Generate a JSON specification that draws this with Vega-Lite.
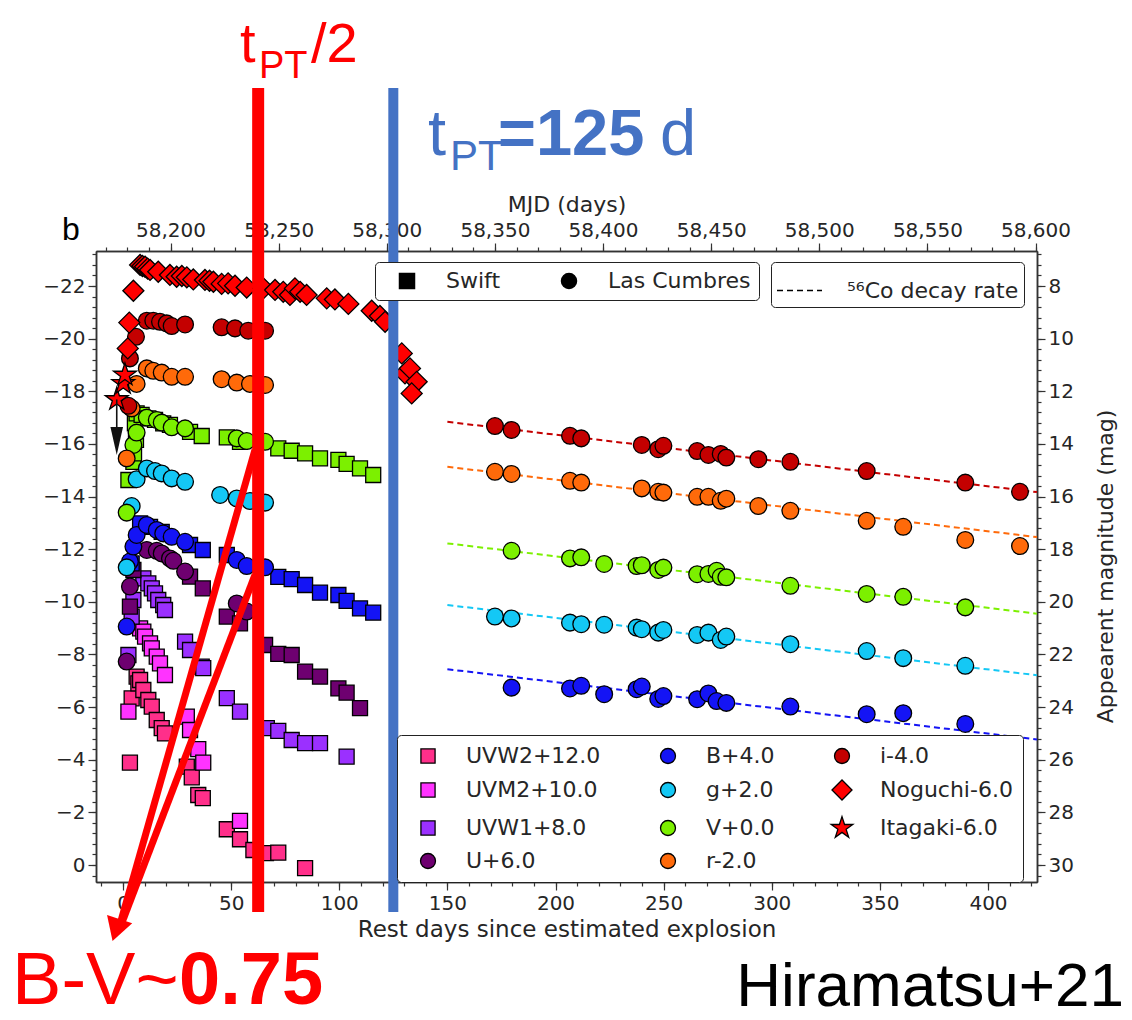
{
  "$schema": "https://vega.github.io/schema/vega-lite/v6.json",
  "width": 941,
  "height": 631,
  "autosize": {"type": "none"},
  "padding": {"left": 96, "top": 251, "right": 95, "bottom": 138},
  "background": "white",
  "config": {
    "view": {"stroke": null},
    "font": "DejaVu Sans",
    "axis": {
      "grid": false,
      "domainColor": "#333333",
      "domainWidth": 1.5,
      "tickColor": "#333333",
      "tickWidth": 1.2,
      "labelColor": "#262626",
      "labelFont": "DejaVu Sans",
      "labelFontSize": 20,
      "titleColor": "#262626",
      "titleFont": "DejaVu Sans",
      "titleFontWeight": "normal",
      "titleFontSize": 22,
      "labelOverlap": false,
      "labelPadding": 3
    }
  },
  "datasets": {
    "photometry": [
      {"band": "UVW2+12.0", "inst": "Swift", "day": 3.2, "mag": -3.89},
      {"band": "UVW2+12.0", "inst": "Swift", "day": 4.0, "mag": -6.33},
      {"band": "UVW2+12.0", "inst": "Swift", "day": 6.3, "mag": -7.16},
      {"band": "UVW2+12.0", "inst": "Swift", "day": 7.1, "mag": -6.90},
      {"band": "UVW2+12.0", "inst": "Swift", "day": 7.9, "mag": -7.03},
      {"band": "UVW2+12.0", "inst": "Swift", "day": 9.4, "mag": -6.65},
      {"band": "UVW2+12.0", "inst": "Swift", "day": 11.7, "mag": -6.27},
      {"band": "UVW2+12.0", "inst": "Swift", "day": 13.3, "mag": -6.02},
      {"band": "UVW2+12.0", "inst": "Swift", "day": 15.6, "mag": -5.51},
      {"band": "UVW2+12.0", "inst": "Swift", "day": 17.9, "mag": -5.20},
      {"band": "UVW2+12.0", "inst": "Swift", "day": 19.4, "mag": -5.00},
      {"band": "UVW2+12.0", "inst": "Swift", "day": 29.5, "mag": -3.74},
      {"band": "UVW2+12.0", "inst": "Swift", "day": 31.8, "mag": -3.33},
      {"band": "UVW2+12.0", "inst": "Swift", "day": 34.8, "mag": -2.66},
      {"band": "UVW2+12.0", "inst": "Swift", "day": 36.9, "mag": -2.54},
      {"band": "UVW2+12.0", "inst": "Swift", "day": 48.0, "mag": -1.36},
      {"band": "UVW2+12.0", "inst": "Swift", "day": 54.1, "mag": -0.98},
      {"band": "UVW2+12.0", "inst": "Swift", "day": 60.3, "mag": -0.57},
      {"band": "UVW2+12.0", "inst": "Swift", "day": 66.1, "mag": -0.45},
      {"band": "UVW2+12.0", "inst": "Swift", "day": 71.8, "mag": -0.47},
      {"band": "UVW2+12.0", "inst": "Swift", "day": 84.2, "mag": 0.12},

      {"band": "UVM2+10.0", "inst": "Swift", "day": 2.5, "mag": -5.83},
      {"band": "UVM2+10.0", "inst": "Swift", "day": 7.9, "mag": -8.99},
      {"band": "UVM2+10.0", "inst": "Swift", "day": 9.4, "mag": -8.87},
      {"band": "UVM2+10.0", "inst": "Swift", "day": 10.2, "mag": -8.68},
      {"band": "UVM2+10.0", "inst": "Swift", "day": 12.5, "mag": -8.42},
      {"band": "UVM2+10.0", "inst": "Swift", "day": 13.3, "mag": -8.23},
      {"band": "UVM2+10.0", "inst": "Swift", "day": 15.6, "mag": -7.92},
      {"band": "UVM2+10.0", "inst": "Swift", "day": 17.1, "mag": -7.66},
      {"band": "UVM2+10.0", "inst": "Swift", "day": 19.4, "mag": -7.22},
      {"band": "UVM2+10.0", "inst": "Swift", "day": 29.5, "mag": -5.64},
      {"band": "UVM2+10.0", "inst": "Swift", "day": 31.0, "mag": -5.13},
      {"band": "UVM2+10.0", "inst": "Swift", "day": 34.8, "mag": -4.40},
      {"band": "UVM2+10.0", "inst": "Swift", "day": 37.1, "mag": -3.89},
      {"band": "UVM2+10.0", "inst": "Swift", "day": 54.1, "mag": -1.68},

      {"band": "UVW1+8.0", "inst": "Swift", "day": 2.5, "mag": -7.98},
      {"band": "UVW1+8.0", "inst": "Swift", "day": 4.0, "mag": -9.44},
      {"band": "UVW1+8.0", "inst": "Swift", "day": 4.8, "mag": -10.07},
      {"band": "UVW1+8.0", "inst": "Swift", "day": 9.4, "mag": -10.89},
      {"band": "UVW1+8.0", "inst": "Swift", "day": 11.7, "mag": -10.70},
      {"band": "UVW1+8.0", "inst": "Swift", "day": 13.3, "mag": -10.51},
      {"band": "UVW1+8.0", "inst": "Swift", "day": 14.8, "mag": -10.32},
      {"band": "UVW1+8.0", "inst": "Swift", "day": 16.3, "mag": -10.07},
      {"band": "UVW1+8.0", "inst": "Swift", "day": 18.6, "mag": -9.88},
      {"band": "UVW1+8.0", "inst": "Swift", "day": 19.4, "mag": -9.69},
      {"band": "UVW1+8.0", "inst": "Swift", "day": 28.7, "mag": -8.49},
      {"band": "UVW1+8.0", "inst": "Swift", "day": 31.0, "mag": -8.17},
      {"band": "UVW1+8.0", "inst": "Swift", "day": 36.4, "mag": -7.54},
      {"band": "UVW1+8.0", "inst": "Swift", "day": 37.1, "mag": -7.48},
      {"band": "UVW1+8.0", "inst": "Swift", "day": 48.0, "mag": -6.34},
      {"band": "UVW1+8.0", "inst": "Swift", "day": 54.1, "mag": -5.83},
      {"band": "UVW1+8.0", "inst": "Swift", "day": 66.5, "mag": -5.20},
      {"band": "UVW1+8.0", "inst": "Swift", "day": 71.8, "mag": -5.10},
      {"band": "UVW1+8.0", "inst": "Swift", "day": 78.0, "mag": -4.75},
      {"band": "UVW1+8.0", "inst": "Swift", "day": 84.2, "mag": -4.63},
      {"band": "UVW1+8.0", "inst": "Swift", "day": 91.1, "mag": -4.63},
      {"band": "UVW1+8.0", "inst": "Swift", "day": 103.4, "mag": -4.12},

      {"band": "U+6.0", "inst": "Swift", "day": 3.2, "mag": -9.82},
      {"band": "U+6.0", "inst": "Swift", "day": 4.8, "mag": -11.21},
      {"band": "U+6.0", "inst": "Swift", "day": 31.0, "mag": -10.96},
      {"band": "U+6.0", "inst": "Swift", "day": 36.9, "mag": -10.51},
      {"band": "U+6.0", "inst": "Swift", "day": 48.0, "mag": -9.44},
      {"band": "U+6.0", "inst": "Swift", "day": 54.1, "mag": -9.18},
      {"band": "U+6.0", "inst": "Swift", "day": 65.7, "mag": -8.36},
      {"band": "U+6.0", "inst": "Swift", "day": 71.8, "mag": -8.02},
      {"band": "U+6.0", "inst": "Swift", "day": 78.0, "mag": -7.98},
      {"band": "U+6.0", "inst": "Swift", "day": 84.2, "mag": -7.35},
      {"band": "U+6.0", "inst": "Swift", "day": 91.1, "mag": -7.16},
      {"band": "U+6.0", "inst": "Swift", "day": 99.6, "mag": -6.71},
      {"band": "U+6.0", "inst": "Swift", "day": 103.4, "mag": -6.55},
      {"band": "U+6.0", "inst": "Swift", "day": 109.6, "mag": -5.96},
      {"band": "U+6.0", "inst": "Las Cumbres", "day": 1.7, "mag": -7.73},
      {"band": "U+6.0", "inst": "Las Cumbres", "day": 3.2, "mag": -10.58},
      {"band": "U+6.0", "inst": "Las Cumbres", "day": 11.0, "mag": -11.97},
      {"band": "U+6.0", "inst": "Las Cumbres", "day": 15.6, "mag": -11.94},
      {"band": "U+6.0", "inst": "Las Cumbres", "day": 17.9, "mag": -11.84},
      {"band": "U+6.0", "inst": "Las Cumbres", "day": 21.7, "mag": -11.65},
      {"band": "U+6.0", "inst": "Las Cumbres", "day": 23.3, "mag": -11.56},
      {"band": "U+6.0", "inst": "Las Cumbres", "day": 28.7, "mag": -11.15},
      {"band": "U+6.0", "inst": "Las Cumbres", "day": 52.6, "mag": -9.94},
      {"band": "U+6.0", "inst": "Las Cumbres", "day": 57.2, "mag": -9.63},

      {"band": "B+4.0", "inst": "Swift", "day": 4.0, "mag": -11.46},
      {"band": "B+4.0", "inst": "Swift", "day": 7.9, "mag": -12.98},
      {"band": "B+4.0", "inst": "Swift", "day": 12.5, "mag": -12.85},
      {"band": "B+4.0", "inst": "Swift", "day": 17.9, "mag": -12.66},
      {"band": "B+4.0", "inst": "Swift", "day": 31.0, "mag": -12.16},
      {"band": "B+4.0", "inst": "Swift", "day": 36.9, "mag": -11.97},
      {"band": "B+4.0", "inst": "Swift", "day": 48.0, "mag": -11.78},
      {"band": "B+4.0", "inst": "Swift", "day": 71.8, "mag": -10.95},
      {"band": "B+4.0", "inst": "Swift", "day": 78.0, "mag": -10.86},
      {"band": "B+4.0", "inst": "Swift", "day": 84.2, "mag": -10.64},
      {"band": "B+4.0", "inst": "Swift", "day": 91.1, "mag": -10.35},
      {"band": "B+4.0", "inst": "Swift", "day": 99.6, "mag": -10.26},
      {"band": "B+4.0", "inst": "Swift", "day": 103.4, "mag": -10.04},
      {"band": "B+4.0", "inst": "Swift", "day": 109.6, "mag": -9.75},
      {"band": "B+4.0", "inst": "Swift", "day": 115.7, "mag": -9.59},
      {"band": "B+4.0", "inst": "Las Cumbres", "day": 1.7, "mag": -9.06},
      {"band": "B+4.0", "inst": "Las Cumbres", "day": 3.2, "mag": -11.53},
      {"band": "B+4.0", "inst": "Las Cumbres", "day": 4.8, "mag": -12.10},
      {"band": "B+4.0", "inst": "Las Cumbres", "day": 6.3, "mag": -12.54},
      {"band": "B+4.0", "inst": "Las Cumbres", "day": 11.0, "mag": -12.92},
      {"band": "B+4.0", "inst": "Las Cumbres", "day": 15.6, "mag": -12.73},
      {"band": "B+4.0", "inst": "Las Cumbres", "day": 18.6, "mag": -12.60},
      {"band": "B+4.0", "inst": "Las Cumbres", "day": 22.5, "mag": -12.47},
      {"band": "B+4.0", "inst": "Las Cumbres", "day": 28.7, "mag": -12.28},
      {"band": "B+4.0", "inst": "Las Cumbres", "day": 52.6, "mag": -11.59},
      {"band": "B+4.0", "inst": "Las Cumbres", "day": 57.2, "mag": -11.36},
      {"band": "B+4.0", "inst": "Las Cumbres", "day": 65.7, "mag": -11.31},
      {"band": "B+4.0", "inst": "Las Cumbres", "day": 179.7, "mag": -6.74},
      {"band": "B+4.0", "inst": "Las Cumbres", "day": 206.7, "mag": -6.71},
      {"band": "B+4.0", "inst": "Las Cumbres", "day": 211.9, "mag": -6.81},
      {"band": "B+4.0", "inst": "Las Cumbres", "day": 222.5, "mag": -6.49},
      {"band": "B+4.0", "inst": "Las Cumbres", "day": 237.5, "mag": -6.68},
      {"band": "B+4.0", "inst": "Las Cumbres", "day": 239.9, "mag": -6.78},
      {"band": "B+4.0", "inst": "Las Cumbres", "day": 247.5, "mag": -6.31},
      {"band": "B+4.0", "inst": "Las Cumbres", "day": 249.9, "mag": -6.42},
      {"band": "B+4.0", "inst": "Las Cumbres", "day": 265.5, "mag": -6.30},
      {"band": "B+4.0", "inst": "Las Cumbres", "day": 270.7, "mag": -6.52},
      {"band": "B+4.0", "inst": "Las Cumbres", "day": 274.5, "mag": -6.23},
      {"band": "B+4.0", "inst": "Las Cumbres", "day": 279.0, "mag": -6.16},
      {"band": "B+4.0", "inst": "Las Cumbres", "day": 308.6, "mag": -6.02},
      {"band": "B+4.0", "inst": "Las Cumbres", "day": 343.9, "mag": -5.73},
      {"band": "B+4.0", "inst": "Las Cumbres", "day": 360.8, "mag": -5.77},
      {"band": "B+4.0", "inst": "Las Cumbres", "day": 389.5, "mag": -5.36},

      {"band": "g+2.0", "inst": "Las Cumbres", "day": 1.7, "mag": -11.31},
      {"band": "g+2.0", "inst": "Las Cumbres", "day": 4.0, "mag": -13.64},
      {"band": "g+2.0", "inst": "Las Cumbres", "day": 6.3, "mag": -14.66},
      {"band": "g+2.0", "inst": "Las Cumbres", "day": 11.0, "mag": -15.07},
      {"band": "g+2.0", "inst": "Las Cumbres", "day": 14.8, "mag": -14.97},
      {"band": "g+2.0", "inst": "Las Cumbres", "day": 17.9, "mag": -14.88},
      {"band": "g+2.0", "inst": "Las Cumbres", "day": 22.5, "mag": -14.69},
      {"band": "g+2.0", "inst": "Las Cumbres", "day": 28.7, "mag": -14.56},
      {"band": "g+2.0", "inst": "Las Cumbres", "day": 44.9, "mag": -14.06},
      {"band": "g+2.0", "inst": "Las Cumbres", "day": 52.6, "mag": -13.93},
      {"band": "g+2.0", "inst": "Las Cumbres", "day": 58.7, "mag": -13.83},
      {"band": "g+2.0", "inst": "Las Cumbres", "day": 65.7, "mag": -13.77},
      {"band": "g+2.0", "inst": "Las Cumbres", "day": 172.0, "mag": -9.44},
      {"band": "g+2.0", "inst": "Las Cumbres", "day": 179.7, "mag": -9.37},
      {"band": "g+2.0", "inst": "Las Cumbres", "day": 206.7, "mag": -9.21},
      {"band": "g+2.0", "inst": "Las Cumbres", "day": 211.9, "mag": -9.15},
      {"band": "g+2.0", "inst": "Las Cumbres", "day": 222.5, "mag": -9.13},
      {"band": "g+2.0", "inst": "Las Cumbres", "day": 237.5, "mag": -9.02},
      {"band": "g+2.0", "inst": "Las Cumbres", "day": 239.9, "mag": -8.96},
      {"band": "g+2.0", "inst": "Las Cumbres", "day": 247.5, "mag": -8.83},
      {"band": "g+2.0", "inst": "Las Cumbres", "day": 249.9, "mag": -8.93},
      {"band": "g+2.0", "inst": "Las Cumbres", "day": 265.5, "mag": -8.74},
      {"band": "g+2.0", "inst": "Las Cumbres", "day": 270.7, "mag": -8.83},
      {"band": "g+2.0", "inst": "Las Cumbres", "day": 276.4, "mag": -8.55},
      {"band": "g+2.0", "inst": "Las Cumbres", "day": 279.0, "mag": -8.68},
      {"band": "g+2.0", "inst": "Las Cumbres", "day": 308.6, "mag": -8.39},
      {"band": "g+2.0", "inst": "Las Cumbres", "day": 343.9, "mag": -8.13},
      {"band": "g+2.0", "inst": "Las Cumbres", "day": 360.8, "mag": -7.86},
      {"band": "g+2.0", "inst": "Las Cumbres", "day": 389.5, "mag": -7.57},

      {"band": "V+0.0", "inst": "Swift", "day": 2.5, "mag": -14.63},
      {"band": "V+0.0", "inst": "Swift", "day": 4.8, "mag": -15.32},
      {"band": "V+0.0", "inst": "Swift", "day": 5.1, "mag": -15.64},
      {"band": "V+0.0", "inst": "Swift", "day": 6.0, "mag": -16.15},
      {"band": "V+0.0", "inst": "Swift", "day": 5.5, "mag": -16.78},
      {"band": "V+0.0", "inst": "Swift", "day": 6.3, "mag": -17.16},
      {"band": "V+0.0", "inst": "Swift", "day": 8.6, "mag": -17.10},
      {"band": "V+0.0", "inst": "Swift", "day": 11.7, "mag": -16.97},
      {"band": "V+0.0", "inst": "Swift", "day": 14.8, "mag": -16.91},
      {"band": "V+0.0", "inst": "Swift", "day": 18.6, "mag": -16.78},
      {"band": "V+0.0", "inst": "Swift", "day": 21.7, "mag": -16.72},
      {"band": "V+0.0", "inst": "Swift", "day": 31.0, "mag": -16.46},
      {"band": "V+0.0", "inst": "Swift", "day": 36.4, "mag": -16.30},
      {"band": "V+0.0", "inst": "Swift", "day": 48.0, "mag": -16.25},
      {"band": "V+0.0", "inst": "Swift", "day": 54.1, "mag": -16.08},
      {"band": "V+0.0", "inst": "Swift", "day": 71.8, "mag": -15.83},
      {"band": "V+0.0", "inst": "Swift", "day": 78.0, "mag": -15.74},
      {"band": "V+0.0", "inst": "Swift", "day": 84.2, "mag": -15.64},
      {"band": "V+0.0", "inst": "Swift", "day": 91.1, "mag": -15.45},
      {"band": "V+0.0", "inst": "Swift", "day": 99.6, "mag": -15.39},
      {"band": "V+0.0", "inst": "Swift", "day": 103.4, "mag": -15.24},
      {"band": "V+0.0", "inst": "Swift", "day": 109.6, "mag": -15.07},
      {"band": "V+0.0", "inst": "Swift", "day": 115.7, "mag": -14.82},
      {"band": "V+0.0", "inst": "Las Cumbres", "day": 1.7, "mag": -13.39},
      {"band": "V+0.0", "inst": "Las Cumbres", "day": 4.8, "mag": -15.96},
      {"band": "V+0.0", "inst": "Las Cumbres", "day": 6.3, "mag": -16.43},
      {"band": "V+0.0", "inst": "Las Cumbres", "day": 11.0, "mag": -17.0},
      {"band": "V+0.0", "inst": "Las Cumbres", "day": 15.6, "mag": -16.91},
      {"band": "V+0.0", "inst": "Las Cumbres", "day": 17.9, "mag": -16.81},
      {"band": "V+0.0", "inst": "Las Cumbres", "day": 22.5, "mag": -16.63},
      {"band": "V+0.0", "inst": "Las Cumbres", "day": 28.7, "mag": -16.59},
      {"band": "V+0.0", "inst": "Las Cumbres", "day": 52.6, "mag": -16.21},
      {"band": "V+0.0", "inst": "Las Cumbres", "day": 57.2, "mag": -16.11},
      {"band": "V+0.0", "inst": "Las Cumbres", "day": 65.7, "mag": -16.08},
      {"band": "V+0.0", "inst": "Las Cumbres", "day": 179.7, "mag": -11.94},
      {"band": "V+0.0", "inst": "Las Cumbres", "day": 206.7, "mag": -11.65},
      {"band": "V+0.0", "inst": "Las Cumbres", "day": 211.9, "mag": -11.69},
      {"band": "V+0.0", "inst": "Las Cumbres", "day": 222.5, "mag": -11.44},
      {"band": "V+0.0", "inst": "Las Cumbres", "day": 237.5, "mag": -11.36},
      {"band": "V+0.0", "inst": "Las Cumbres", "day": 239.9, "mag": -11.39},
      {"band": "V+0.0", "inst": "Las Cumbres", "day": 247.5, "mag": -11.21},
      {"band": "V+0.0", "inst": "Las Cumbres", "day": 249.9, "mag": -11.30},
      {"band": "V+0.0", "inst": "Las Cumbres", "day": 265.5, "mag": -11.05},
      {"band": "V+0.0", "inst": "Las Cumbres", "day": 270.7, "mag": -11.06},
      {"band": "V+0.0", "inst": "Las Cumbres", "day": 274.5, "mag": -11.18},
      {"band": "V+0.0", "inst": "Las Cumbres", "day": 276.4, "mag": -10.95},
      {"band": "V+0.0", "inst": "Las Cumbres", "day": 279.0, "mag": -10.93},
      {"band": "V+0.0", "inst": "Las Cumbres", "day": 308.6, "mag": -10.61},
      {"band": "V+0.0", "inst": "Las Cumbres", "day": 343.9, "mag": -10.30},
      {"band": "V+0.0", "inst": "Las Cumbres", "day": 360.8, "mag": -10.19},
      {"band": "V+0.0", "inst": "Las Cumbres", "day": 389.5, "mag": -9.79},

      {"band": "r-2.0", "inst": "Las Cumbres", "day": 1.7, "mag": -15.45},
      {"band": "r-2.0", "inst": "Las Cumbres", "day": 4.0, "mag": -17.35},
      {"band": "r-2.0", "inst": "Las Cumbres", "day": 6.3, "mag": -18.28},
      {"band": "r-2.0", "inst": "Las Cumbres", "day": 11.0, "mag": -18.87},
      {"band": "r-2.0", "inst": "Las Cumbres", "day": 14.0, "mag": -18.78},
      {"band": "r-2.0", "inst": "Las Cumbres", "day": 17.9, "mag": -18.71},
      {"band": "r-2.0", "inst": "Las Cumbres", "day": 22.5, "mag": -18.55},
      {"band": "r-2.0", "inst": "Las Cumbres", "day": 28.7, "mag": -18.55},
      {"band": "r-2.0", "inst": "Las Cumbres", "day": 45.6, "mag": -18.46},
      {"band": "r-2.0", "inst": "Las Cumbres", "day": 52.6, "mag": -18.33},
      {"band": "r-2.0", "inst": "Las Cumbres", "day": 58.7, "mag": -18.28},
      {"band": "r-2.0", "inst": "Las Cumbres", "day": 65.7, "mag": -18.24},
      {"band": "r-2.0", "inst": "Las Cumbres", "day": 172.0, "mag": -14.94},
      {"band": "r-2.0", "inst": "Las Cumbres", "day": 179.7, "mag": -14.86},
      {"band": "r-2.0", "inst": "Las Cumbres", "day": 206.7, "mag": -14.60},
      {"band": "r-2.0", "inst": "Las Cumbres", "day": 211.9, "mag": -14.53},
      {"band": "r-2.0", "inst": "Las Cumbres", "day": 239.9, "mag": -14.31},
      {"band": "r-2.0", "inst": "Las Cumbres", "day": 247.5, "mag": -14.18},
      {"band": "r-2.0", "inst": "Las Cumbres", "day": 249.9, "mag": -14.15},
      {"band": "r-2.0", "inst": "Las Cumbres", "day": 265.5, "mag": -13.99},
      {"band": "r-2.0", "inst": "Las Cumbres", "day": 270.7, "mag": -13.99},
      {"band": "r-2.0", "inst": "Las Cumbres", "day": 276.4, "mag": -13.84},
      {"band": "r-2.0", "inst": "Las Cumbres", "day": 279.0, "mag": -13.92},
      {"band": "r-2.0", "inst": "Las Cumbres", "day": 293.8, "mag": -13.64},
      {"band": "r-2.0", "inst": "Las Cumbres", "day": 308.6, "mag": -13.46},
      {"band": "r-2.0", "inst": "Las Cumbres", "day": 343.9, "mag": -13.08},
      {"band": "r-2.0", "inst": "Las Cumbres", "day": 360.8, "mag": -12.85},
      {"band": "r-2.0", "inst": "Las Cumbres", "day": 389.5, "mag": -12.35},
      {"band": "r-2.0", "inst": "Las Cumbres", "day": 414.8, "mag": -12.12},

      {"band": "i-4.0", "inst": "Las Cumbres", "day": 2.5, "mag": -17.45},
      {"band": "i-4.0", "inst": "Las Cumbres", "day": 3.2, "mag": -19.25},
      {"band": "i-4.0", "inst": "Las Cumbres", "day": 6.0, "mag": -20.07},
      {"band": "i-4.0", "inst": "Las Cumbres", "day": 11.0, "mag": -20.68},
      {"band": "i-4.0", "inst": "Las Cumbres", "day": 14.0, "mag": -20.68},
      {"band": "i-4.0", "inst": "Las Cumbres", "day": 17.1, "mag": -20.64},
      {"band": "i-4.0", "inst": "Las Cumbres", "day": 20.2, "mag": -20.58},
      {"band": "i-4.0", "inst": "Las Cumbres", "day": 22.5, "mag": -20.48},
      {"band": "i-4.0", "inst": "Las Cumbres", "day": 28.7, "mag": -20.54},
      {"band": "i-4.0", "inst": "Las Cumbres", "day": 45.6, "mag": -20.43},
      {"band": "i-4.0", "inst": "Las Cumbres", "day": 51.8, "mag": -20.39},
      {"band": "i-4.0", "inst": "Las Cumbres", "day": 57.9, "mag": -20.30},
      {"band": "i-4.0", "inst": "Las Cumbres", "day": 65.7, "mag": -20.30},
      {"band": "i-4.0", "inst": "Las Cumbres", "day": 172.0, "mag": -16.68},
      {"band": "i-4.0", "inst": "Las Cumbres", "day": 179.7, "mag": -16.53},
      {"band": "i-4.0", "inst": "Las Cumbres", "day": 206.7, "mag": -16.31},
      {"band": "i-4.0", "inst": "Las Cumbres", "day": 211.9, "mag": -16.21},
      {"band": "i-4.0", "inst": "Las Cumbres", "day": 239.9, "mag": -15.96},
      {"band": "i-4.0", "inst": "Las Cumbres", "day": 247.5, "mag": -15.80},
      {"band": "i-4.0", "inst": "Las Cumbres", "day": 249.9, "mag": -15.93},
      {"band": "i-4.0", "inst": "Las Cumbres", "day": 265.5, "mag": -15.73},
      {"band": "i-4.0", "inst": "Las Cumbres", "day": 270.7, "mag": -15.58},
      {"band": "i-4.0", "inst": "Las Cumbres", "day": 276.4, "mag": -15.62},
      {"band": "i-4.0", "inst": "Las Cumbres", "day": 279.0, "mag": -15.48},
      {"band": "i-4.0", "inst": "Las Cumbres", "day": 293.8, "mag": -15.42},
      {"band": "i-4.0", "inst": "Las Cumbres", "day": 308.6, "mag": -15.32},
      {"band": "i-4.0", "inst": "Las Cumbres", "day": 343.9, "mag": -14.97},
      {"band": "i-4.0", "inst": "Las Cumbres", "day": 389.5, "mag": -14.53},
      {"band": "i-4.0", "inst": "Las Cumbres", "day": 414.8, "mag": -14.18},

      {"band": "Noguchi-6.0", "inst": "Noguchi", "day": 2.2, "mag": -19.63},
      {"band": "Noguchi-6.0", "inst": "Noguchi", "day": 2.9, "mag": -20.61},
      {"band": "Noguchi-6.0", "inst": "Noguchi", "day": 4.8, "mag": -21.82},
      {"band": "Noguchi-6.0", "inst": "Noguchi", "day": 7.9, "mag": -22.80},
      {"band": "Noguchi-6.0", "inst": "Noguchi", "day": 9.0, "mag": -22.76},
      {"band": "Noguchi-6.0", "inst": "Noguchi", "day": 10.2, "mag": -22.73},
      {"band": "Noguchi-6.0", "inst": "Noguchi", "day": 11.4, "mag": -22.66},
      {"band": "Noguchi-6.0", "inst": "Noguchi", "day": 12.5, "mag": -22.61},
      {"band": "Noguchi-6.0", "inst": "Noguchi", "day": 16.3, "mag": -22.54},
      {"band": "Noguchi-6.0", "inst": "Noguchi", "day": 21.7, "mag": -22.42},
      {"band": "Noguchi-6.0", "inst": "Noguchi", "day": 24.8, "mag": -22.35},
      {"band": "Noguchi-6.0", "inst": "Noguchi", "day": 27.2, "mag": -22.38},
      {"band": "Noguchi-6.0", "inst": "Noguchi", "day": 29.5, "mag": -22.33},
      {"band": "Noguchi-6.0", "inst": "Noguchi", "day": 32.5, "mag": -22.25},
      {"band": "Noguchi-6.0", "inst": "Noguchi", "day": 37.9, "mag": -22.23},
      {"band": "Noguchi-6.0", "inst": "Noguchi", "day": 40.0, "mag": -22.20},
      {"band": "Noguchi-6.0", "inst": "Noguchi", "day": 41.8, "mag": -22.16},
      {"band": "Noguchi-6.0", "inst": "Noguchi", "day": 45.6, "mag": -22.08},
      {"band": "Noguchi-6.0", "inst": "Noguchi", "day": 48.6, "mag": -22.10},
      {"band": "Noguchi-6.0", "inst": "Noguchi", "day": 51.8, "mag": -22.01},
      {"band": "Noguchi-6.0", "inst": "Noguchi", "day": 57.2, "mag": -21.94},
      {"band": "Noguchi-6.0", "inst": "Noguchi", "day": 64.9, "mag": -21.91},
      {"band": "Noguchi-6.0", "inst": "Noguchi", "day": 70.3, "mag": -21.85},
      {"band": "Noguchi-6.0", "inst": "Noguchi", "day": 74.1, "mag": -21.78},
      {"band": "Noguchi-6.0", "inst": "Noguchi", "day": 77.2, "mag": -21.66},
      {"band": "Noguchi-6.0", "inst": "Noguchi", "day": 79.5, "mag": -21.91},
      {"band": "Noguchi-6.0", "inst": "Noguchi", "day": 81.9, "mag": -21.78},
      {"band": "Noguchi-6.0", "inst": "Noguchi", "day": 84.9, "mag": -21.66},
      {"band": "Noguchi-6.0", "inst": "Noguchi", "day": 94.2, "mag": -21.53},
      {"band": "Noguchi-6.0", "inst": "Noguchi", "day": 98.0, "mag": -21.49},
      {"band": "Noguchi-6.0", "inst": "Noguchi", "day": 104.2, "mag": -21.32},
      {"band": "Noguchi-6.0", "inst": "Noguchi", "day": 115.0, "mag": -21.06},
      {"band": "Noguchi-6.0", "inst": "Noguchi", "day": 118.8, "mag": -20.86},
      {"band": "Noguchi-6.0", "inst": "Noguchi", "day": 121.2, "mag": -20.64},
      {"band": "Noguchi-6.0", "inst": "Noguchi", "day": 128.9, "mag": -19.44},
      {"band": "Noguchi-6.0", "inst": "Noguchi", "day": 130.4, "mag": -18.68},
      {"band": "Noguchi-6.0", "inst": "Noguchi", "day": 132.7, "mag": -18.87},
      {"band": "Noguchi-6.0", "inst": "Noguchi", "day": 135.8, "mag": -18.36},
      {"band": "Noguchi-6.0", "inst": "Noguchi", "day": 133.5, "mag": -17.92},

      {"band": "Itagaki-6.0", "inst": "Itagaki", "day": -2.9, "mag": -17.69},
      {"band": "Itagaki-6.0", "inst": "Itagaki", "day": 0.1, "mag": -18.30},
      {"band": "Itagaki-6.0", "inst": "Itagaki", "day": 0.9, "mag": -18.62}
    ],
    "decay": [
      {"band": "i-4.0", "model": "⁵⁶Co decay rate", "day": 150, "mag": -16.84},
      {"band": "i-4.0", "model": "⁵⁶Co decay rate", "day": 422.66, "mag": -14.17},
      {"band": "r-2.0", "model": "⁵⁶Co decay rate", "day": 150, "mag": -15.13},
      {"band": "r-2.0", "model": "⁵⁶Co decay rate", "day": 422.66, "mag": -12.46},
      {"band": "V+0.0", "model": "⁵⁶Co decay rate", "day": 150, "mag": -12.22},
      {"band": "V+0.0", "model": "⁵⁶Co decay rate", "day": 422.66, "mag": -9.55},
      {"band": "g+2.0", "model": "⁵⁶Co decay rate", "day": 150, "mag": -9.88},
      {"band": "g+2.0", "model": "⁵⁶Co decay rate", "day": 422.66, "mag": -7.21},
      {"band": "B+4.0", "model": "⁵⁶Co decay rate", "day": 150, "mag": -7.44},
      {"band": "B+4.0", "model": "⁵⁶Co decay rate", "day": 422.66, "mag": -4.77}
    ],
    "upper_limit": [
      {"day": -2.9, "mag": -17.69, "mag2": -16.6, "tip": -16.11}
    ],
    "epochs": [
      {"epoch": "t_PT/2", "day": 62.5, "mag": -29.52, "mag2": 1.785},
      {"epoch": "t_PT", "day": 125, "mag": -29.52, "mag2": 1.785}
    ],
    "pointers": [
      {"day": 61.0, "mag": -15.77, "day2": -1.85, "mag2": 2.39},
      {"day": 61.0, "mag": -11.02, "day2": -0.9, "mag2": 2.28}
    ],
    "pointer_tip": [
      {"day": -3.2, "mag": 2.47}
    ]
  },
  "layer": [
    {
      "encoding": {
        "x": {
          "field": "day",
          "type": "quantitative",
          "scale": {"domain": [-12.49, 422.66], "nice": false, "zero": false},
          "axis": {
            "orient": "bottom",
            "title": "Rest days since estimated explosion",
            "titleFontSize": 23,
            "titlePadding": 5,
            "format": "d",
            "values": [0, 50, 100, 150, 200, 250, 300, 350, 400],
            "tickSize": 8
          }
        },
        "y": {
          "field": "mag",
          "type": "quantitative",
          "scale": {"domain": [-23.33, 0.645], "reverse": true, "nice": false, "zero": false},
          "axis": {
            "orient": "left",
            "title": null,
            "format": "d",
            "values": [-22, -20, -18, -16, -14, -12, -10, -8, -6, -4, -2, 0],
            "tickSize": 8
          }
        }
      },
      "layer": [
        {
          "data": {"name": "decay"},
          "mark": {"type": "line", "strokeWidth": 2},
          "encoding": {
            "detail": {"field": "band"},
            "color": {
              "field": "band",
              "type": "nominal",
              "scale": {
                "domain": ["i-4.0", "r-2.0", "V+0.0", "g+2.0", "B+4.0"],
                "range": ["#c40000", "#ff6a0a", "#7cf000", "#14c8f5", "#1414f5"]
              },
              "legend": null
            },
            "strokeDash": {
              "field": "model",
              "type": "nominal",
              "scale": {"domain": ["⁵⁶Co decay rate"], "range": [[6, 4]]},
              "legend": {
                "orient": "none",
                "legendX": 675,
                "legendY": 11,
                "title": null,
                "symbolType": "stroke",
                "symbolSize": 2025,
                "symbolStrokeColor": "black",
                "symbolStrokeWidth": 1.5,
                "labelFont": "DejaVu Sans",
                "labelFontSize": 22,
                "labelColor": "#262626",
                "labelOffset": 24,
                "labelLimit": 400,
                "padding": 5,
                "fillColor": "white",
                "strokeColor": "#222222",
                "cornerRadius": 4
              }
            }
          }
        },
        {
          "data": {"name": "photometry"},
          "encoding": {
            "color": {
              "field": "band",
              "type": "nominal",
              "scale": {
                "domain": ["UVW2+12.0", "UVM2+10.0", "UVW1+8.0", "U+6.0", "B+4.0", "g+2.0", "V+0.0", "r-2.0", "i-4.0", "Noguchi-6.0", "Itagaki-6.0"],
                "range": ["#ff2f8a", "#ff33ff", "#9b30ff", "#6e0070", "#1414f5", "#14c8f5", "#7cf000", "#ff6a0a", "#c40000", "#ff0000", "#ff0000"]
              },
              "legend": {
                "orient": "none",
                "legendX": 301,
                "legendY": 484,
                "columns": 3,
                "title": null,
                "labelFont": "DejaVu Sans",
                "labelFontSize": 22,
                "labelColor": "#262626",
                "labelLimit": 300,
                "symbolSize": 225,
                "symbolOffset": 10,
                "labelOffset": 27,
                "columnPadding": 46,
                "rowPadding": 10,
                "padding": 10,
                "symbolStrokeColor": "black",
                "symbolStrokeWidth": 1.3,
                "symbolOpacity": 1,
                "fillColor": "white",
                "strokeColor": "#222222",
                "cornerRadius": 4,
                "encode": {
                  "symbols": {
                    "update": {
                      "shape": {"signal": "datum.value === 'Noguchi-6.0' ? 'diamond' : datum.value === 'Itagaki-6.0' ? 'M0,-1L0.2245,-0.309L0.951,-0.309L0.3633,0.118L0.5878,0.809L0,0.382L-0.5878,0.809L-0.3633,0.118L-0.951,-0.309L-0.2245,-0.309Z' : indexof(['UVW2+12.0', 'UVM2+10.0', 'UVW1+8.0'], datum.value) >= 0 ? 'square' : 'circle'"},
                      "size": {"signal": "datum.value === 'Noguchi-6.0' ? 400 : datum.value === 'Itagaki-6.0' ? 520 : indexof(['UVW2+12.0', 'UVM2+10.0', 'UVW1+8.0'], datum.value) >= 0 ? 200 : 225"},
                      "stroke": {"value": "black"},
                      "strokeWidth": {"value": 1.3},
                      "opacity": {"value": 1}
                    }
                  }
                }
              }
            },
            "shape": {
              "field": "inst",
              "type": "nominal",
              "scale": {
                "domain": ["Swift", "Las Cumbres", "Noguchi", "Itagaki"],
                "range": ["square", "circle", "diamond", "M0,-1L0.2245,-0.309L0.951,-0.309L0.3633,0.118L0.5878,0.809L0,0.382L-0.5878,0.809L-0.3633,0.118L-0.951,-0.309L-0.2245,-0.309Z"]
              },
              "legend": {
                "orient": "none",
                "legendX": 279,
                "legendY": 11,
                "direction": "horizontal",
                "values": ["Swift", "Las Cumbres"],
                "title": null,
                "zindex": 0,
                "labelFont": "DejaVu Sans",
                "labelFontSize": 22,
                "labelColor": "#262626",
                "labelLimit": 300,
                "symbolSize": 225,
                "symbolOffset": 13,
                "labelOffset": 28,
                "columnPadding": 44,
                "padding": 8,
                "symbolFillColor": "black",
                "symbolStrokeColor": "black",
                "symbolOpacity": 1,
                "fillColor": "white",
                "strokeColor": "#222222",
                "cornerRadius": 4,
                "encode": {
                  "symbols": {
                    "update": {
                      "fill": {"value": "black"},
                      "stroke": {"value": "black"},
                      "opacity": {"value": 1}
                    }
                  }
                }
              }
            }
          },
          "layer": [
            {
              "transform": [{"filter": "datum.inst === 'Swift'"}],
              "mark": {"type": "point", "filled": true, "opacity": 1, "stroke": "black", "strokeWidth": 1.3, "size": 225}
            },
            {
              "transform": [{"filter": "datum.inst === 'Las Cumbres'"}],
              "mark": {"type": "point", "filled": true, "opacity": 1, "stroke": "black", "strokeWidth": 1.3, "size": 280}
            },
            {
              "transform": [{"filter": "datum.inst === 'Noguchi'"}],
              "mark": {"type": "point", "filled": true, "opacity": 1, "stroke": "black", "strokeWidth": 1.3, "size": 441}
            },
            {
              "transform": [{"filter": "datum.inst === 'Itagaki'"}],
              "mark": {"type": "point", "filled": true, "opacity": 1, "stroke": "black", "strokeWidth": 1.3, "size": 576}
            }
          ]
        },
        {
          "data": {"name": "upper_limit"},
          "mark": {"type": "rule", "color": "#111111", "strokeWidth": 1.6},
          "encoding": {"y2": {"field": "mag2"}}
        },
        {
          "data": {"name": "upper_limit"},
          "mark": {"type": "point", "filled": true, "color": "#111111", "opacity": 1, "size": 784, "shape": "M-0.45,-1L0.45,-1L0,1Z"},
          "encoding": {"y": {"field": "tip", "type": "quantitative"}}
        },
        {
          "data": {"name": "epochs"},
          "transform": [{"filter": "datum.epoch === 't_PT/2'"}],
          "mark": {"type": "rule", "color": "#ff0000", "strokeWidth": 12, "clip": false},
          "encoding": {"y2": {"field": "mag2"}}
        },
        {
          "data": {"name": "epochs"},
          "transform": [{"filter": "datum.epoch === 't_PT'"}],
          "mark": {"type": "rule", "color": "#4472c4", "strokeWidth": 10, "clip": false},
          "encoding": {"y2": {"field": "mag2"}}
        },
        {
          "data": {"name": "pointers"},
          "mark": {"type": "rule", "color": "#ff0000", "strokeWidth": 7, "clip": false},
          "encoding": {"x2": {"field": "day2"}, "y2": {"field": "mag2"}}
        },
        {
          "data": {"name": "pointer_tip"},
          "mark": {"type": "point", "shape": "triangle-down", "angle": 18, "filled": true, "color": "#ff0000", "opacity": 1, "size": 700, "clip": false}
        },
        {
          "data": {"values": [{"text": "t", "day": 54.1, "mag": -30.51}, {"text": "/2", "day": 86.9, "mag": -30.51}]},
          "mark": {"type": "text", "font": "Liberation Sans", "fontSize": 56, "color": "#ff0000", "align": "left", "baseline": "alphabetic", "clip": false},
          "encoding": {"text": {"field": "text"}}
        },
        {
          "data": {"values": [{"text": "PT", "day": 62.9, "mag": -29.90}]},
          "mark": {"type": "text", "font": "Liberation Sans", "fontSize": 38, "color": "#ff0000", "align": "left", "baseline": "alphabetic", "clip": false},
          "encoding": {"text": {"field": "text"}}
        },
        {
          "data": {"values": [{"text": "t", "day": 141.0, "mag": -26.98}, {"text": "d", "day": 248.3, "mag": -26.98}]},
          "mark": {"type": "text", "font": "Liberation Sans", "fontSize": 65, "color": "#4472c4", "align": "left", "baseline": "alphabetic", "clip": false},
          "encoding": {"text": {"field": "text"}}
        },
        {
          "data": {"values": [{"text": "PT", "day": 151.2, "mag": -26.41}]},
          "mark": {"type": "text", "font": "Liberation Sans", "fontSize": 42, "color": "#4472c4", "align": "left", "baseline": "alphabetic", "clip": false},
          "encoding": {"text": {"field": "text"}}
        },
        {
          "data": {"values": [{"text": "=125", "day": 173.4, "mag": -26.98}]},
          "mark": {"type": "text", "font": "Liberation Sans", "fontSize": 65, "fontWeight": "bold", "color": "#4472c4", "align": "left", "baseline": "alphabetic", "clip": false},
          "encoding": {"text": {"field": "text"}}
        },
        {
          "data": {"values": [{"text": "B-V~", "day": -51.3, "mag": 5.28}]},
          "mark": {"type": "text", "font": "Liberation Sans", "fontSize": 74, "color": "#ff0000", "align": "left", "baseline": "alphabetic", "clip": false},
          "encoding": {"text": {"field": "text"}}
        },
        {
          "data": {"values": [{"text": "0.75", "day": 25.9, "mag": 5.28}]},
          "mark": {"type": "text", "font": "Liberation Sans", "fontSize": 74, "fontWeight": "bold", "color": "#ff0000", "align": "left", "baseline": "alphabetic", "clip": false},
          "encoding": {"text": {"field": "text"}}
        },
        {
          "data": {"values": [{"text": "Hiramatsu+21", "day": 462.9, "mag": 5.36}]},
          "mark": {"type": "text", "font": "Liberation Sans", "fontSize": 62, "color": "#000000", "align": "right", "baseline": "alphabetic", "clip": false},
          "encoding": {"text": {"field": "text"}}
        },
        {
          "data": {"values": [{"text": "b", "day": -28.2, "mag": -23.75}]},
          "mark": {"type": "text", "font": "Liberation Sans", "fontSize": 32, "color": "#000000", "align": "left", "baseline": "alphabetic", "clip": false},
          "encoding": {"text": {"field": "text"}}
        }
      ],
      "resolve": {"scale": {"color": "independent"}}
    },
    {
      "data": {"values": [{"mjd": 58400, "app": 20}]},
      "mark": {"type": "point", "opacity": 0},
      "encoding": {
        "x": {
          "field": "mjd",
          "type": "quantitative",
          "scale": {"domain": [58165.54, 58600.69], "nice": false, "zero": false},
          "axis": {
            "orient": "top",
            "title": "MJD (days)",
            "titlePadding": 4,
            "format": ",d",
            "values": [58200, 58250, 58300, 58350, 58400, 58450, 58500, 58550, 58600],
            "tickSize": 8
          }
        },
        "y": {
          "field": "app",
          "type": "quantitative",
          "scale": {"domain": [6.67, 30.645], "reverse": true, "nice": false, "zero": false},
          "axis": {
            "orient": "right",
            "title": "Appearent magnitude (mag)",
            "titleAngle": 270,
            "titleX": 68,
            "titleY": 315,
            "titleAlign": "center",
            "titleBaseline": "middle",
            "format": "d",
            "values": [8, 10, 12, 14, 16, 18, 20, 22, 24, 26, 28, 30],
            "tickSize": 8
          }
        }
      }
    },
    {
      "data": {"values": [{"day": 0, "mag": -10}]},
      "mark": {"type": "point", "opacity": 0},
      "encoding": {
        "x": {
          "field": "day",
          "type": "quantitative",
          "scale": {"domain": [-12.49, 422.66], "nice": false, "zero": false},
          "axis": {
            "orient": "bottom",
            "title": null,
            "labels": false,
            "tickSize": 4,
            "values": [-10,0,10,20,30,40,50,60,70,80,90,100,110,120,130,140,150,160,170,180,190,200,210,220,230,240,250,260,270,280,290,300,310,320,330,340,350,360,370,380,390,400,410,420]
          }
        },
        "y": {
          "field": "mag",
          "type": "quantitative",
          "scale": {"domain": [-23.33, 0.645], "reverse": true, "nice": false, "zero": false},
          "axis": {
            "orient": "left",
            "title": null,
            "labels": false,
            "tickSize": 4,
            "values": [-23.2,-22.8,-22.4,-22,-21.6,-21.2,-20.8,-20.4,-20,-19.6,-19.2,-18.8,-18.4,-18,-17.6,-17.2,-16.8,-16.4,-16,-15.6,-15.2,-14.8,-14.4,-14,-13.6,-13.2,-12.8,-12.4,-12,-11.6,-11.2,-10.8,-10.4,-10,-9.6,-9.2,-8.8,-8.4,-8,-7.6,-7.2,-6.8,-6.4,-6,-5.6,-5.2,-4.8,-4.4,-4,-3.6,-3.2,-2.8,-2.4,-2,-1.6,-1.2,-0.8,-0.4,0,0.4]
          }
        }
      }
    },
    {
      "data": {"values": [{"mjd": 58400, "app": 20}]},
      "mark": {"type": "point", "opacity": 0},
      "encoding": {
        "x": {
          "field": "mjd",
          "type": "quantitative",
          "scale": {"domain": [58165.54, 58600.69], "nice": false, "zero": false},
          "axis": {
            "orient": "top",
            "title": null,
            "labels": false,
            "tickSize": 4,
            "values": [58170,58180,58190,58200,58210,58220,58230,58240,58250,58260,58270,58280,58290,58300,58310,58320,58330,58340,58350,58360,58370,58380,58390,58400,58410,58420,58430,58440,58450,58460,58470,58480,58490,58500,58510,58520,58530,58540,58550,58560,58570,58580,58590,58600]
          }
        },
        "y": {
          "field": "app",
          "type": "quantitative",
          "scale": {"domain": [6.67, 30.645], "reverse": true, "nice": false, "zero": false},
          "axis": {
            "orient": "right",
            "title": null,
            "labels": false,
            "tickSize": 4,
            "values": [6.8,7.2,7.6,8,8.4,8.8,9.2,9.6,10,10.4,10.8,11.2,11.6,12,12.4,12.8,13.2,13.6,14,14.4,14.8,15.2,15.6,16,16.4,16.8,17.2,17.6,18,18.4,18.8,19.2,19.6,20,20.4,20.8,21.2,21.6,22,22.4,22.8,23.2,23.6,24,24.4,24.8,25.2,25.6,26,26.4,26.8,27.2,27.6,28,28.4,28.8,29.2,29.6,30,30.4]
          }
        }
      }
    }
  ],
  "resolve": {"scale": {"x": "independent", "y": "independent"}}
}
